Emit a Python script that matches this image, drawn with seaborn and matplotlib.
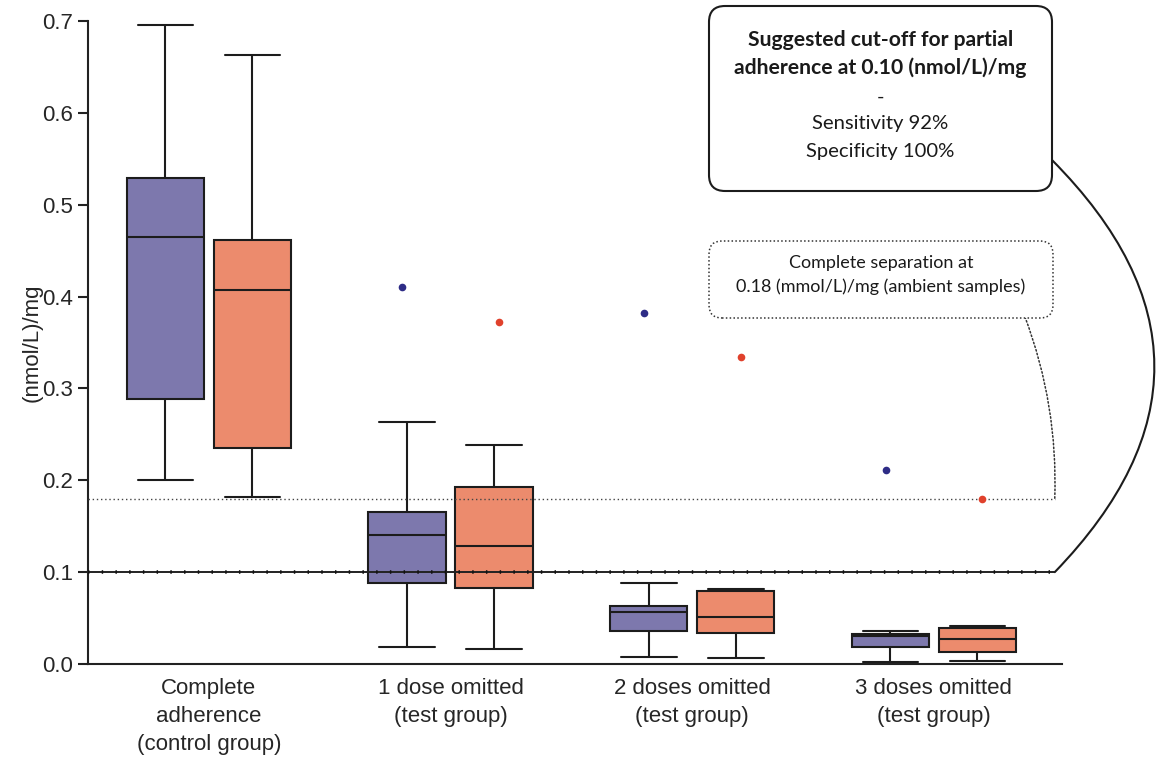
import numpy as np
import pandas as pd
import matplotlib.pyplot as plt
import seaborn as sns
from matplotlib.patches import FancyBboxPatch

GROUPS = [
    'Complete\nadherence\n(control group)',
    '1 dose omitted\n(test group)',
    '2 doses omitted\n(test group)',
    '3 doses omitted\n(test group)',
]
SAMPLES = ['reference', 'ambient']

# five-number summaries (min, Q1, median, Q3, max)
REF_MIN = [0.200, 0.018, 0.008, 0.002]
REF_Q1 = [0.289, 0.088, 0.036, 0.018]
REF_MED = [0.465, 0.140, 0.057, 0.031]
REF_Q3 = [0.529, 0.166, 0.063, 0.033]
REF_MAX = [0.696, 0.263, 0.088, 0.036]

AMB_MIN = [0.182, 0.016, 0.007, 0.003]
AMB_Q1 = [0.235, 0.083, 0.034, 0.013]
AMB_MED = [0.407, 0.128, 0.051, 0.027]
AMB_Q3 = [0.462, 0.193, 0.079, 0.039]
AMB_MAX = [0.663, 0.238, 0.082, 0.041]

# single outliers (none in the control group)
REF_OUT = [np.nan, 0.410, 0.382, 0.211]
AMB_OUT = [np.nan, 0.372, 0.334, 0.180]

CUTOFF = 0.10
SEPARATION = 0.18

BOX_COLORS = ['#7d78ad', '#ec8b6d']
DOT_COLORS = ['#2e2c86', '#e0412c']

# long-form table: the 5 summary values per box give exact quartiles with whis=(0, 100)
rows = []
summaries = {
    'reference': (REF_MIN, REF_Q1, REF_MED, REF_Q3, REF_MAX),
    'ambient': (AMB_MIN, AMB_Q1, AMB_MED, AMB_Q3, AMB_MAX),
}
for sample, stats in summaries.items():
    for i, g in enumerate(GROUPS):
        for s in stats:
            rows.append({'group': g, 'sample': sample, 'value': s[i]})
box_df = pd.DataFrame(rows)

out_df = pd.DataFrame({
    'group': GROUPS * 2,
    'sample': ['reference'] * 4 + ['ambient'] * 4,
    'value': REF_OUT + AMB_OUT,
}).dropna()

sns.set_style('ticks')
plt.rcParams['font.family'] = ['Liberation Sans', 'DejaVu Sans']

fig, ax = plt.subplots(figsize=(11.56, 7.58))
ax.set_position([0.0761, 0.124, 0.8426, 0.8483])

sns.boxplot(
    data=box_df, x='group', y='value', hue='sample',
    order=GROUPS, hue_order=SAMPLES, palette=BOX_COLORS, saturation=1,
    whis=(0, 100), width=0.72, gap=0.11, linewidth=1.5, linecolor='#1c1c1c',
    showfliers=False, legend=False, ax=ax, capwidths=0.23,
)
sns.stripplot(
    data=out_df, x='group', y='value', hue='sample',
    order=GROUPS, hue_order=SAMPLES, palette=DOT_COLORS,
    dodge=True, jitter=False, size=5.5, linewidth=0, legend=False, ax=ax, zorder=5,
)

# reference lines (drawn over the boxes)
ax.hlines(SEPARATION, -0.5, 3.5, color='#444', lw=1, linestyles=(0, (1, 2)), zorder=4)
ax.hlines(CUTOFF, -0.5, 3.5, color='#222', lw=1.4, zorder=4)
ax.hlines(CUTOFF, -0.5, 3.5, color='#111', lw=2.6, linestyles=(0, (0.4, 3.4)), zorder=4)

ax.set_xlim(-0.5, 3.53)
ax.set_ylim(0, 0.7)
ax.set_yticks(np.arange(0, 0.71, 0.1))
ax.set_yticklabels([f'{v:.1f}' for v in np.arange(0, 0.71, 0.1)])
ax.set_xlabel('')
ax.set_ylabel('(nmol/L)/mg', fontsize=16, labelpad=0)
ax.tick_params(axis='y', labelsize=16, length=7, width=1.5, color='#222')
ax.tick_params(axis='x', labelsize=16, length=0, pad=10)
for lab in ax.get_xticklabels():
    lab.set_linespacing(1.45)
for sp in ['left', 'bottom']:
    ax.spines[sp].set_linewidth(1.5)
    ax.spines[sp].set_color('#222')
sns.despine(ax=ax)

# annotation boxes (inches)
inch = fig.dpi_scale_trans
fig.patches.append(FancyBboxPatch(
    (7.09, 5.67), 3.43, 1.85, boxstyle='round,pad=0,rounding_size=0.16',
    transform=inch, fc='white', ec='#1c1c1c', lw=1.5))
fig.patches.append(FancyBboxPatch(
    (7.09, 4.40), 3.44, 0.77, boxstyle='round,pad=0,rounding_size=0.13',
    transform=inch, fc='white', ec='#333', lw=1.1, ls=(0, (1, 1.5))))

txt = dict(transform=inch, ha='center', va='center', family='Lato', color='#1a1a1a')
fig.text(8.805, 7.18, 'Suggested cut-off for partial', fontsize=15.2, fontweight='bold', **txt)
fig.text(8.805, 6.90, 'adherence at 0.10 (nmol/L)/mg', fontsize=15.2, fontweight='bold', **txt)
fig.text(8.805, 6.61, '-', fontsize=14.6, **txt)
fig.text(8.805, 6.34, 'Sensitivity 92%', fontsize=14.6, **txt)
fig.text(8.805, 6.06, 'Specificity 100%', fontsize=14.6, **txt)
fig.text(8.81, 4.95, 'Complete separation at', fontsize=13, **txt)
fig.text(8.81, 4.71, '0.18 (mmol/L)/mg (ambient samples)', fontsize=13, **txt)

# connectors from boxes to the reference lines
ax.annotate('', xy=(3.5, CUTOFF), xycoords='data', xytext=(10.52, 5.98), textcoords=inch,
            annotation_clip=False,
            arrowprops=dict(arrowstyle='-', connectionstyle='arc3,rad=-0.49',
                            shrinkA=0, shrinkB=0, lw=1.5, color='#1c1c1c'))
ax.annotate('', xy=(3.5, SEPARATION), xycoords='data', xytext=(10.25, 4.41), textcoords=inch,
            annotation_clip=False,
            arrowprops=dict(arrowstyle='-', connectionstyle='arc3,rad=-0.1',
                            shrinkA=0, shrinkB=0, lw=1.1, color='#333', ls=(0, (1, 1.5))))

fig.savefig('out.png', dpi=100)
